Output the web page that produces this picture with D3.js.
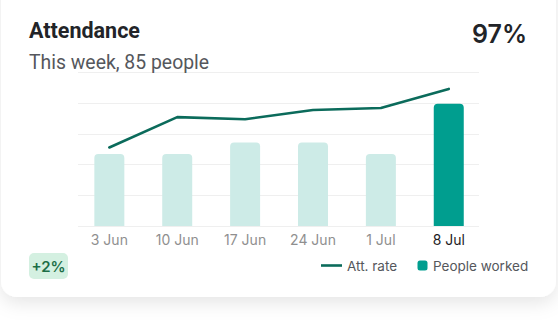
<!DOCTYPE html>
<html><head><meta charset="utf-8">
<script src="https://cdn.jsdelivr.net/npm/d3@7"></script>
<style>
html,body{margin:0;padding:0;background:#fff;}
svg{display:block;font-family:Inter,Roboto,sans-serif;}
</style></head>
<body>
<svg id="c" width="558" height="329"></svg>
<script>
const weeks = ["3 Jun","10 Jun","17 Jun","24 Jun","1 Jul","8 Jul"];
const peopleWorked = [50, 50, 58, 58, 50, 85];
const attRate = [85.3, 91.2, 90.8, 92.6, 93.0, 96.7];
const gridTicks = [0, 1, 2, 3, 4, 5];
const title = "Attendance";
const subtitle = "This week, 85 people";
const headline = "97%";
const change = "+2%";

const svg = d3.select("#c");
const defs = svg.append("defs");
const f = defs.append("filter").attr("id","sh").attr("x","-10%").attr("y","-10%").attr("width","120%").attr("height","140%");
f.append("feDropShadow").attr("dx",0).attr("dy",6).attr("stdDeviation",9).attr("flood-color","#000").attr("flood-opacity",0.10);

svg.append("rect").attr("x",1).attr("y",-30).attr("width",555).attr("height",327)
  .attr("rx",16).attr("fill","#fff").attr("filter","url(#sh)");

const x = d3.scaleBand().domain(weeks).range([75.4, 482.7]).paddingInner(0.558).paddingOuter(0.279);
const yP = d3.scaleLinear().domain([0, 107]).range([226, 72]);
const yR = d3.scaleLinear().domain([70, 100]).range([226, 72]);
const yG = d3.scaleLinear().domain([0, 5]).range([226, 72]);

svg.append("g").selectAll("line").data(gridTicks).join("line")
  .attr("x1",78).attr("x2",479)
  .attr("y1",d=>Math.round(yG(d))+0.5).attr("y2",d=>Math.round(yG(d))+0.5)
  .attr("stroke","#efefef").attr("stroke-width",1);

function topRounded(x0,y0,w,h,r){
  return `M${x0},${y0+h}V${y0+r}Q${x0},${y0} ${x0+r},${y0}H${x0+w-r}Q${x0+w},${y0} ${x0+w},${y0+r}V${y0+h}Z`;
}
const last = weeks.length-1;
svg.append("g").selectAll("path").data(weeks).join("path")
  .attr("d",(d,i)=>topRounded(x(d), yP(peopleWorked[i]), x.bandwidth(), yP(0)-yP(peopleWorked[i]), 4))
  .attr("fill",(d,i)=> i===last ? "#009e8f" : "#cdebe7");

const line = d3.line().x((d,i)=>x(weeks[i])+x.bandwidth()/2).y(d=>yR(d));
svg.append("path").attr("d",line(attRate)).attr("fill","none")
  .attr("stroke","#0b6b5b").attr("stroke-width",2.6).attr("stroke-linecap","round").attr("stroke-linejoin","round");

const xAxis = svg.append("g").attr("transform","translate(0,226)")
  .call(d3.axisBottom(x).tickSize(0).tickPadding(9));
xAxis.select(".domain").remove();
xAxis.selectAll("text").attr("font-size",14).attr("font-family","Inter, Roboto, sans-serif")
  .attr("fill",(d,i)=> i===last ? "#1d1d1f" : "#8f8f8f")
  .attr("font-weight",400);

svg.append("text").attr("x",29).attr("y",38.3).text(title).attr("font-family","Roboto, sans-serif")
  .attr("font-size",21.5).attr("font-weight",700).attr("fill","#222428");
svg.append("text").attr("x",29).attr("y",69).text(subtitle).attr("font-family","Roboto, sans-serif")
  .attr("font-size",19.4).attr("fill","#55575c");
svg.append("text").attr("x",527).attr("y",43).attr("text-anchor","end").text(headline)
  .attr("font-size",25).attr("font-weight",600).attr("fill","#222428");

svg.append("rect").attr("x",29).attr("y",253).attr("width",39).attr("height",26).attr("rx",5).attr("fill","#d4f0e1");
svg.append("text").attr("x",48.5).attr("y",271.5).attr("text-anchor","middle").text(change)
  .attr("font-size",15).attr("font-weight",600).attr("fill","#1d6e47");

const lg = svg.append("g");
lg.append("line").attr("x1",321).attr("x2",342).attr("y1",265.5).attr("y2",265.5).attr("stroke","#0b6b5b").attr("stroke-width",2.6);
lg.append("text").attr("x",347).attr("y",270.5).text("Att. rate").attr("font-size",13.5).attr("fill","#55575c");
lg.append("rect").attr("x",417.5).attr("y",260.5).attr("width",10).attr("height",10).attr("rx",2.5).attr("fill","#009e8f");
lg.append("text").attr("x",433).attr("y",270.5).text("People worked").attr("font-size",13.5).attr("fill","#55575c");
</script>
</body></html>
